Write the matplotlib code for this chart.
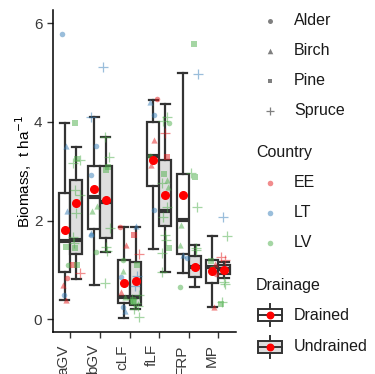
import numpy as np
import matplotlib.pyplot as plt
from matplotlib.patches import Rectangle

plt.rcParams['font.family'] = ['Liberation Sans', 'DejaVu Sans']

# box statistics per category, drained (D) and undrained (U)
categories = ["aGV", "bGV", "cLF", "fLF", "FRP", "MP"]
d_lo = [0.39, 0.70, 0.02, 1.42, 0.94, 0.26]
d_q1 = [0.97, 1.83, 0.33, 2.71, 1.32, 0.73]
d_med = [1.58, 2.47, 0.46, 3.31, 2.01, 1.07]
d_q3 = [2.57, 3.11, 1.20, 3.99, 2.94, 1.20]
d_hi = [3.98, 4.10, 1.88, 4.45, 5.00, 1.68]
d_mean = [1.82, 2.64, 0.73, 3.22, 2.53, 0.99]

u_lo = [0.81, 1.36, 0.20, 0.95, 0.65, 0.83]
u_q1 = [1.32, 1.65, 0.30, 1.90, 0.86, 0.92]
u_med = [1.61, 2.38, 0.46, 2.20, 1.07, 1.02]
u_q3 = [2.82, 3.10, 1.17, 3.22, 1.28, 1.10]
u_hi = [3.49, 3.69, 1.88, 4.37, 1.50, 1.17]
u_mean = [2.35, 2.42, 0.78, 2.53, 1.07, 1.01]

# individual plots
pt_cat = (["aGV"] * 23 + ["bGV"] * 17 + ["cLF"] * 23 + ["fLF"] * 23
          + ["FRP"] * 12 + ["MP"] * 13)
pt_drain = list("DDUUUUDUUUDUUDUDUUDDUDD"
                "UDDUUDUUDUUUDDDUD"
                "DUDUUDUDDUUUUUUUUDDUUDD"
                "DDDUUUUDDDUUUUDUUUUUUUU"
                "UUUUUDDDUDDU"
                "UUUUDDDUUUUDD")
pt_species = list("ABPSSPBSSSBSSPPAPPABSAB"
                  "SSASSAPPBSSSABASB"
                  "ABBPSBPABSSSSSSSSABPPBA"
                  "ABASSASBABPPBSASSPSSSSB"
                  "PSSPSBABSABS"
                  "SSSSBPASSPSBA")
pt_country = list("TTVVVVTVVVVVVVVVEVEEETE"
                  "TTTVVTVVVVVVTTVVV"
                  "ETEEEVVTETTVVVVVVTTVVVV"
                  "ETTVVVEEVEEVVVTVVVVVVVV"
                  "VTVVVVTTVVVV"
                  "TVEEEVEVVVVEV")
pt_biomass = [5.78, 3.51, 3.97, 3.22, 3.17, 3.24, 2.20, 2.62, 2.52, 2.15, 1.82,
              1.66, 1.55, 1.47, 1.44, 1.10, 1.10, 1.10, 0.83, 0.70, 0.93, 0.49, 0.39,
              5.12, 4.10, 3.52, 3.69, 3.30, 2.92, 3.03, 3.08, 2.20, 1.85, 1.47,
              1.39, 1.71, 1.75, 1.36, 0.73, 2.30,
              1.88, 1.89, 1.50, 1.71, 1.32, 0.98, 1.10, 0.85, 0.55, 0.87, 0.68,
              0.50, 0.42, 0.33, 0.27, 0.22, 0.05, 0.26, 0.16, 0.36, 0.40, 0.45, 1.20,
              4.46, 4.41, 4.14, 4.10, 4.03, 3.97, 3.77, 3.64, 3.32, 3.12, 3.30,
              2.95, 2.69, 2.76, 2.22, 2.28, 2.08, 1.45, 1.70, 1.60, 1.34, 0.95, 2.82,
              5.58, 4.97, 2.96, 2.89, 2.28, 1.92, 1.25, 1.30, 1.44, 0.65, 1.50, 1.40,
              2.08, 1.68, 1.26, 1.20, 1.13, 1.18, 0.92, 0.76, 0.72, 0.32, 0.36, 0.26, 1.05]

species = ["Alder", "Birch", "Pine", "Spruce"]
sp_code = {"A": "Alder", "B": "Birch", "P": "Pine", "S": "Spruce"}
countries = ["EE", "LT", "LV"]
co_code = {"E": "EE", "T": "LT", "V": "LV"}
drainage = ["Drained", "Undrained"]

markers = {"Alder": "o", "Birch": "^", "Pine": "s", "Spruce": "+"}
msize = {"Alder": 16, "Birch": 20, "Pine": 14, "Spruce": 42}
colors = {"EE": "#E41A1C", "LT": "#377EB8", "LV": "#4DAF4A"}
box_fill = {"D": "white", "U": "#DEDEDE"}
edge = "#333333"

fig = plt.figure(figsize=(3.75, 3.74), dpi=100)
ax = fig.add_axes([0.1405, 0.1131, 0.489, 0.8602])

pos = np.arange(1, len(categories) + 1)
dodge = {"D": -0.2, "U": 0.2}

for code, lo, q1, med, q3, hi, mn in [("D", d_lo, d_q1, d_med, d_q3, d_hi, d_mean),
                                      ("U", u_lo, u_q1, u_med, u_q3, u_hi, u_mean)]:
    stats = [dict(whislo=lo[i], q1=q1[i], med=med[i], q3=q3[i], whishi=hi[i],
                  mean=mn[i], fliers=[]) for i in range(len(categories))]
    ax.bxp(stats, positions=pos + dodge[code], widths=0.4, capwidths=0.3,
           patch_artist=True, showmeans=True, showfliers=False, manage_ticks=False,
           boxprops=dict(facecolor=box_fill[code], edgecolor=edge, linewidth=1.6),
           medianprops=dict(color=edge, linewidth=3),
           whiskerprops=dict(color=edge, linewidth=1.6),
           capprops=dict(color=edge, linewidth=1.6),
           meanprops=dict(marker="o", markerfacecolor="red", markeredgecolor="red",
                          markersize=5.5, zorder=5))

# jittered points (fixed jitter pattern)
jit = [-0.09, 0.05, -0.03, 0.11, -0.12, 0.01, 0.08, -0.06, 0.13, -0.01, 0.04, -0.1]
xs = np.array([categories.index(c) + 1 + dodge[d] + jit[i % len(jit)]
               for i, (c, d) in enumerate(zip(pt_cat, pt_drain))])
ys = np.array(pt_biomass)
sp = np.array([sp_code[s] for s in pt_species])
co = np.array([co_code[c] for c in pt_country])
for s in species:
    for c in countries:
        m = (sp == s) & (co == c)
        if m.any():
            ax.scatter(xs[m], ys[m], marker=markers[s], s=msize[s], color=colors[c],
                       alpha=0.5, linewidths=0.9 if s == "Spruce" else 0, zorder=4)

ax.set_xlim(0.4, len(categories) + 0.6)
ax.set_ylim(-0.25, 6.27)
ax.set_yticks([0, 2, 4, 6])
ax.set_xticks(pos)
ax.set_xticklabels(categories, rotation=90, ha="right", va="top")
ax.tick_params(axis="both", colors=edge, labelcolor="#3a3a3a", labelsize=11,
               length=4, width=1)
ax.tick_params(axis="x", pad=5)
ax.spines[["top", "right"]].set_visible(False)
for s in ["left", "bottom"]:
    ax.spines[s].set_linewidth(1.1)
    ax.spines[s].set_color("black")
ax.set_ylabel("Biomass,  t ha$^{-1}$", fontsize=11, labelpad=0)

# legends drawn in pixel space on the right
lax = fig.add_axes([0, 0, 1, 1])
lax.set_xlim(0, 375)
lax.set_ylim(374, 0)
lax.axis("off")
for i, s in enumerate(species):
    y = 20.7 + 30 * i
    lax.scatter([270], [y], marker=markers[s], s=msize[s] * 0.8, color="#7f7f7f",
                linewidths=0.9 if s == "Spruce" else 0)
    lax.text(294, y, s, va="center", fontsize=11.5, color="#1a1a1a")
lax.text(256, 152.7, "Country", va="center", fontsize=11.5, color="#1a1a1a")
for i, c in enumerate(countries):
    y = 182.7 + 30 * i
    lax.scatter([270], [y], marker="o", s=16, color=colors[c], alpha=0.5, linewidths=0)
    lax.text(294, y, c, va="center", fontsize=11.5, color="#1a1a1a")
lax.text(256, 285.7, "Drainage", va="center", fontsize=11.5, color="#1a1a1a")
for i, (d, code) in enumerate(zip(drainage, ["D", "U"])):
    y = 315 + 31.7 * i
    lax.plot([270, 270], [y - 11, y + 11], color=edge, lw=1.4)
    lax.add_patch(Rectangle((258, y - 6), 24, 12, facecolor=box_fill[code],
                            edgecolor=edge, lw=1.4, zorder=3))
    lax.plot([258, 282], [y, y], color=edge, lw=1.4, zorder=4)
    lax.scatter([270], [y], s=22, color="red", zorder=5)
    lax.text(294, y, d, va="center", fontsize=11.5, color="#1a1a1a")

fig.savefig("out.png", dpi=100)
